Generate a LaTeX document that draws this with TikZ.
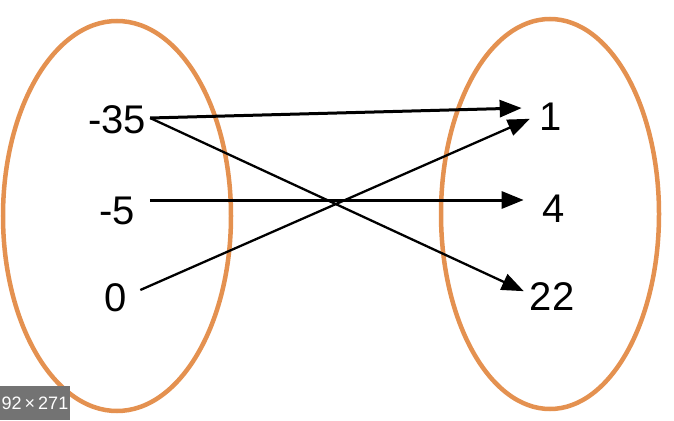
\documentclass[tikz,border=0pt]{standalone}
\usepackage{fontspec}
\setmainfont{Liberation Sans}
\usetikzlibrary{arrows.meta,positioning}
\usepackage{xcolor}
\definecolor{setorange}{RGB}{228,145,80}

\begin{document}
\begin{tikzpicture}[x=1pt,y=-1pt]
      \tikzstyle{setring} = [draw=setorange, line width=4.5pt]
      \tikzstyle{num} = [inner sep=4pt, font=\fontsize{40}{48}\selectfont]
      \tikzstyle{map} = [-{Triangle[length=22pt,width=17pt]}, line width=3pt, shorten >=2pt]

      \useasboundingbox (0,0) rectangle (674,420);

      \draw[setring] (117,216) ellipse [x radius=114, y radius=195];
      \draw[setring] (550,214) ellipse [x radius=109, y radius=195];

      \node[num] (a) at (117,120) {-35};
      \node[num] (b) at (117,211) {-5};
      \node[num] (c) at (116,298) {0};

      \node[num] (p) at (551,117) {1};
      \node[num] (q) at (554,209) {4};
      \node[num] (r) at (552,297) {22};

      \draw[map] ([yshift=2pt]a.east) -- ([yshift=9pt,xshift=-12pt]p.west);
      \draw[map, line width=2.3pt] ([yshift=2pt]a.east) -- ([yshift=5pt,xshift=0pt]r.west);
      \draw[map] ([yshift=11pt,xshift=11pt]b.east) -- ([yshift=9pt,xshift=-13pt]q.west);
      \draw[map, line width=2.3pt] ([yshift=8pt,xshift=9pt]c.east) -- ([yshift=-1pt,xshift=-4pt]p.west);

      \node[fill=black!55, text=white, inner sep=0pt, minimum width=70pt, minimum height=34pt,
            font=\fontsize{18}{22}\selectfont] (size) at (35,403) {92\,×\,271};
\end{tikzpicture}
\end{document}
